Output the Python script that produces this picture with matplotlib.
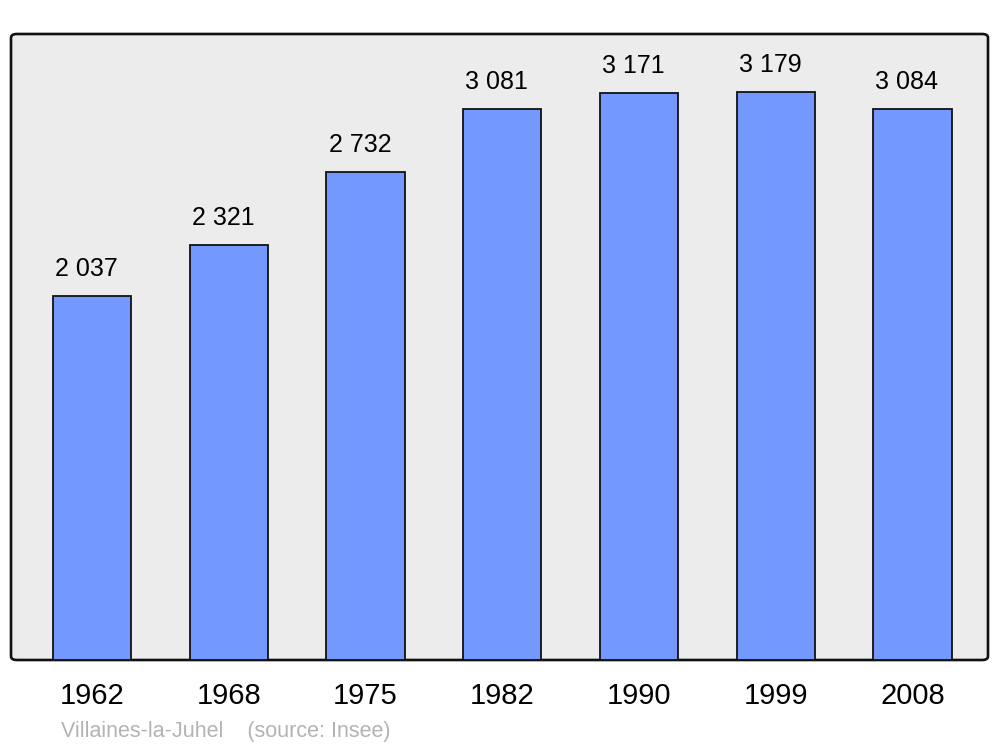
import matplotlib
matplotlib.use("Agg")
import matplotlib.pyplot as plt
from matplotlib.patches import FancyBboxPatch

years = ["1962", "1968", "1975", "1982", "1990", "1999", "2008"]
population = [2037, 2321, 2732, 3081, 3171, 3179, 3084]
value_labels = ["2 037", "2 321", "2 732", "3 081", "3 171", "3 179", "3 084"]
source_text = "Villaines-la-Juhel    (source: Insee)"

plt.rcParams['font.family'] = ['Liberation Sans', 'DejaVu Sans']

fig = plt.figure(figsize=(10, 7.47), dpi=100)
ax = fig.add_axes([0.011, 87 / 747, 0.977, 626 / 747])
ax.set_facecolor('none')
for s in ax.spines.values():
    s.set_visible(False)

# rounded background frame
frame = FancyBboxPatch((0, 0), 1, 1, boxstyle="round,pad=0,rounding_size=0.006",
                       transform=ax.transAxes, facecolor='#ececec', edgecolor='#111111',
                       linewidth=1.9, zorder=0, clip_on=False)
ax.add_patch(frame)

x = list(range(len(years)))
ax.bar(x, population, width=0.572, color='#7399ff', edgecolor='#111111',
       linewidth=1.3, zorder=2)

for xi, v, lab in zip(x, population, value_labels):
    ax.annotate(lab, (xi, v), xytext=(-4, 19.5), textcoords='offset points',
                ha='center', va='center', fontsize=18, color='black')

ax.set_xlim(-0.592, 6.552)
ax.set_ylim(0, 3503)
ax.set_yticks([])
ax.set_xticks(x)
ax.set_xticklabels(years, fontsize=21)
ax.tick_params(axis='x', length=0, pad=16)

fig.text(0.061, 1 - 732 / 747, source_text, ha='left', va='center',
         fontsize=15.5, color='#b3b3b3')

fig.savefig('out.png', dpi=100)
